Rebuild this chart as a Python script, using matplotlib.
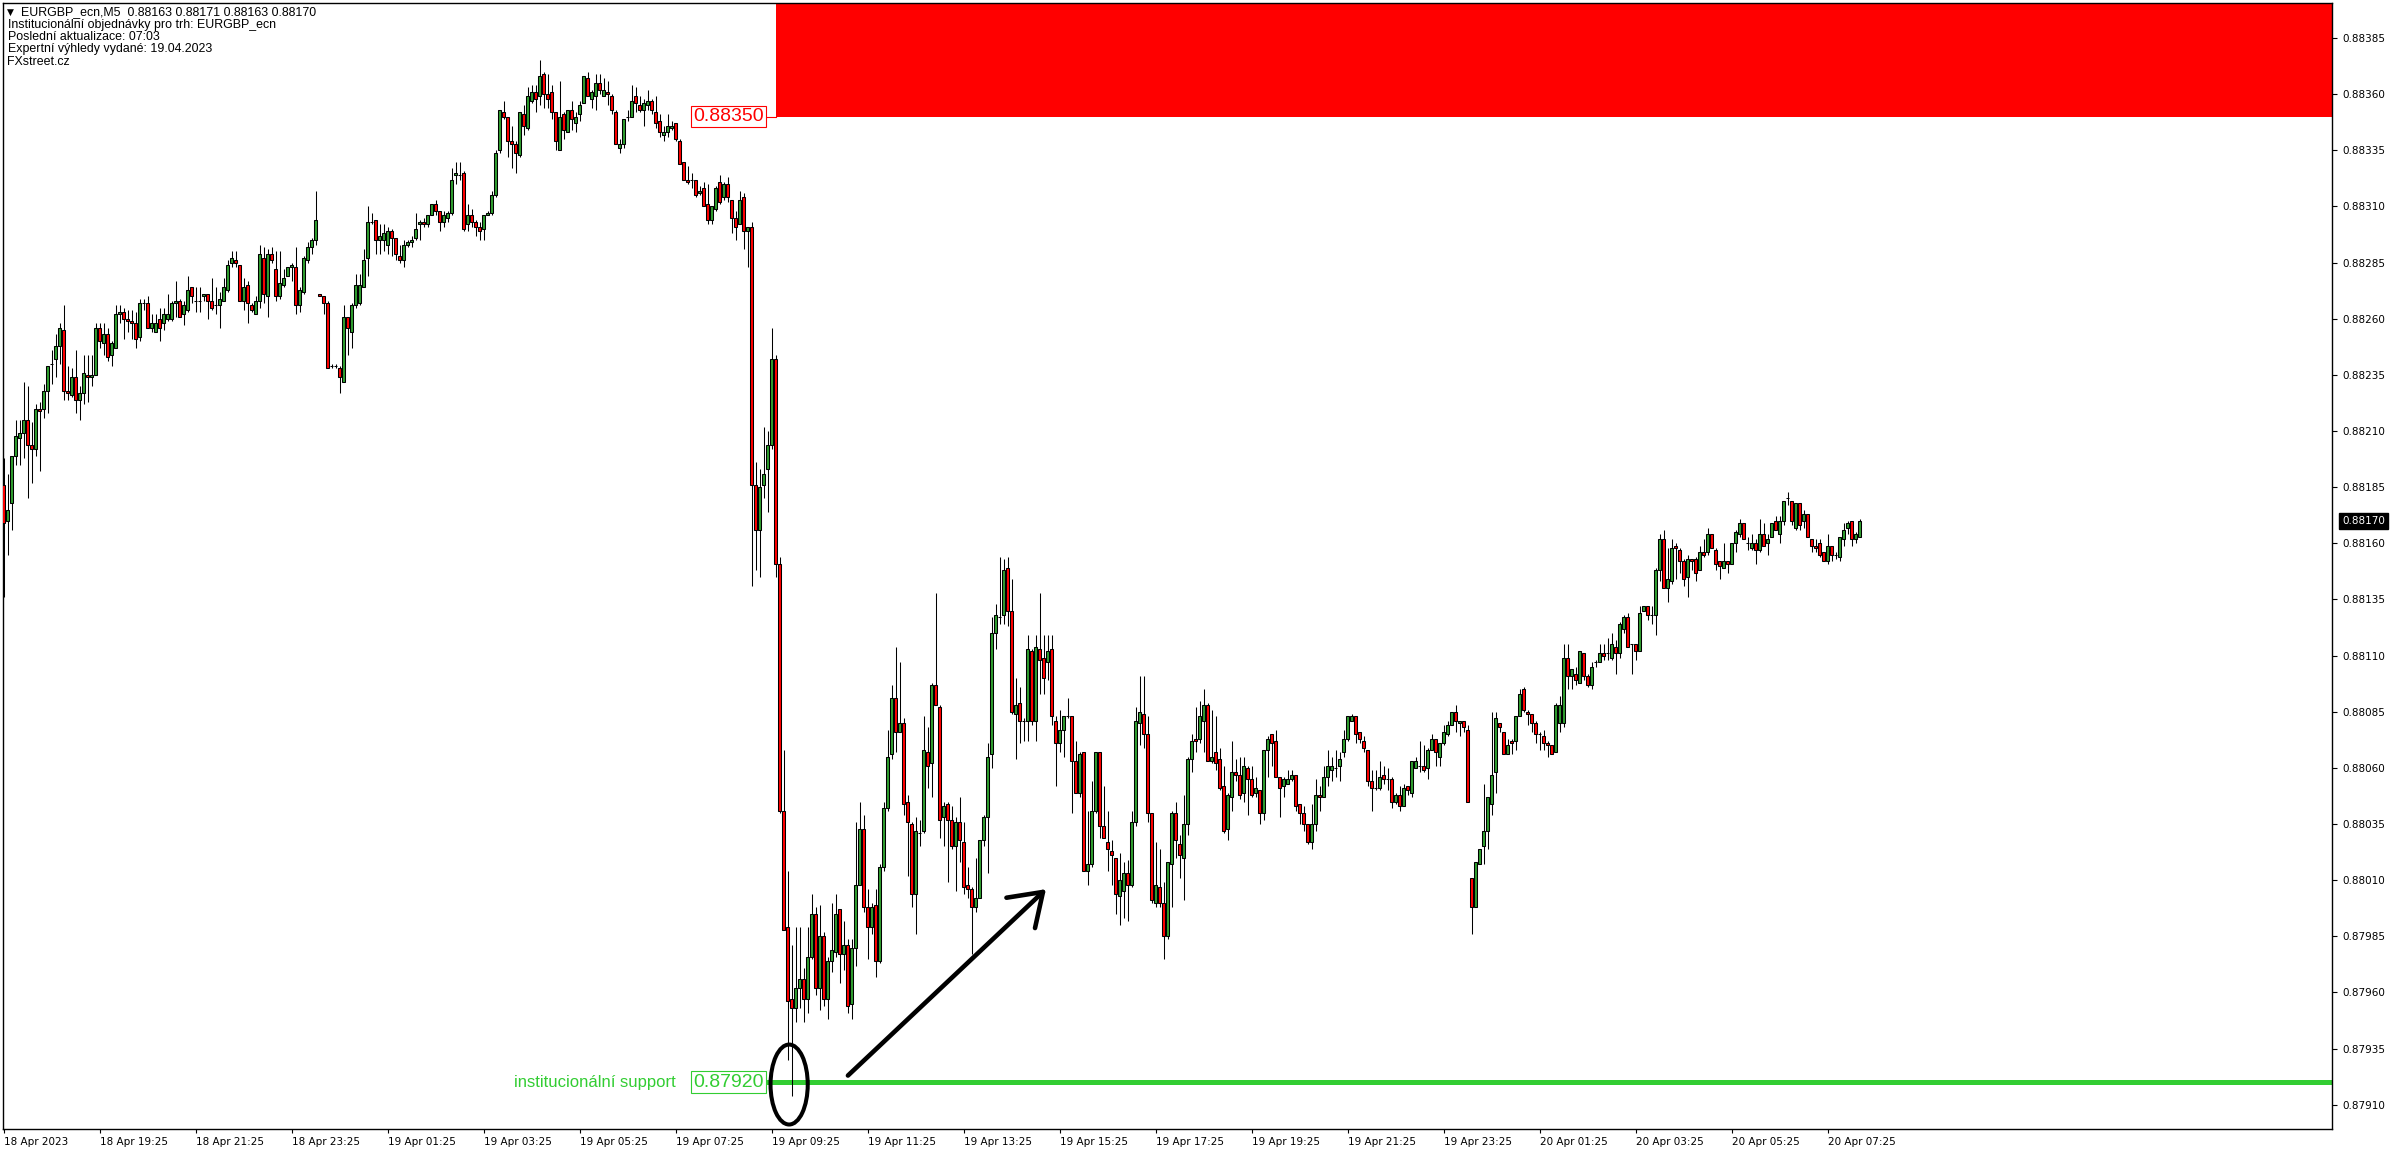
import numpy as np
import matplotlib
matplotlib.use("Agg")
import matplotlib.pyplot as plt
from matplotlib.patches import Rectangle, Ellipse

# M5 candles, values in points (0.00001) above 0.88000
BASE = 0.88
opens = [
    186, 170, 178, 199, 207, 209, 215, 204, 202, 220,
    220, 228, 240, 242, 248, 255, 228, 226, 234, 224,
    227, 235, 234, 235, 256, 249, 253, 244, 247, 262,
    263, 260, 259, 258, 252, 267, 267, 256, 254, 260,
    258, 260, 260, 267, 268, 262, 264, 274, 268, 268,
    270, 271, 268, 266, 266, 268, 273, 285, 286, 284,
    268, 275, 266, 262, 268, 287, 270, 289, 282, 270,
    275, 279, 283, 283, 266, 272, 286, 292, 295, 271,
    270, 267, 239, 239, 238, 232, 261, 254, 266, 267,
    274, 287, 303, 304, 295, 295, 293, 299, 296, 288,
    286, 293, 294, 296, 302, 303, 302, 306, 311, 308,
    303, 305, 307, 324, 324, 325, 302, 306, 303, 301,
    300, 306, 307, 315, 335, 352, 350, 339, 338, 333,
    351, 345, 357, 361, 359, 369, 360, 361, 352, 335,
    351, 343, 353, 347, 351, 356, 367, 358, 359, 365,
    359, 361, 359, 352, 336, 338, 350, 350, 359, 355,
    353, 355, 357, 352, 348, 342, 343, 345, 347, 339,
    330, 322, 322, 322, 316, 318, 311, 304, 309, 321,
    314, 320, 313, 305, 302, 314, 299, 301, 186, 166,
    186, 193, 204, 242, 151, 41, -11, -43, -47, -38,
    -34, -43, -24, -5, -38, -15, -43, -26, -22, -3,
    -23, -19, -45, -20, 8, 33, -2, -11, -1, -26,
    16, 42, 66, 91, 76, 80, 45, 35, 4, 31,
    32, 67, 62, 97, 87, 38, 44, 37, 25, 36,
    27, 8, 6, -2, 2, 28, 38, 66, 120, 127,
    128, 149, 130, 84, 89, 81, 81, 112, 81, 113,
    109, 107, 113, 81, 71, 77, 83, 83, 63, 49,
    67, 14, 17, 41, 67, 34, 27, 23, 20, 3,
    5, 13, 8, 36, 80, 84, 75, 40, 0, 7,
    0, -15, 17, 40, 26, 20, 35, 64, 73, 73,
    81, 88, 63, 67, 64, 52, 33, 47, 58, 57,
    49, 60, 55, 49, 50, 40, 68, 75, 72, 56,
    52, 53, 55, 57, 44, 40, 35, 27, 35, 48,
    47, 56, 59, 60, 61, 67, 73, 81, 83, 76,
    72, 68, 54, 51, 51, 57, 55, 55, 45, 48,
    43, 52, 49, 60, 61, 61, 60, 68, 73, 65,
    71, 75, 79, 85, 80, 81, 77, 11, -2, 17,
    25, 32, 44, 58, 80, 76, 66, 72, 72, 83,
    95, 85, 84, 80, 75, 74, 71, 70, 67, 80,
    80, 109, 101, 102, 98, 111, 101, 97, 107, 107,
    111, 111, 109, 114, 111, 122, 127, 115, 115, 112,
    130, 132, 128, 128, 148, 162, 140, 143, 159, 157,
    152, 145, 153, 153, 148, 156, 156, 164, 157, 152,
    149, 152, 151, 160, 164, 169, 160, 158, 160, 157,
    164, 160, 163, 170, 164, 170, 180, 179, 167, 178,
    170, 173, 162, 159, 160, 156, 152, 159, 155, 154,
    162, 167, 170, 162, 163,
]
highs = [
    198, 191, 199, 215, 215, 232, 230, 214, 222, 223,
    231, 239, 246, 253, 258, 266, 239, 238, 246, 230,
    244, 244, 244, 258, 258, 258, 256, 250, 266, 266,
    265, 264, 264, 263, 269, 269, 270, 262, 262, 265,
    265, 271, 268, 277, 269, 268, 279, 274, 274, 274,
    271, 271, 278, 274, 272, 278, 286, 290, 290, 284,
    278, 277, 267, 270, 293, 292, 291, 292, 290, 290,
    282, 283, 285, 292, 274, 288, 294, 296, 317, 271,
    270, 268, 240, 240, 239, 266, 261, 267, 280, 280,
    291, 310, 307, 304, 302, 302, 301, 300, 296, 293,
    295, 295, 297, 307, 304, 305, 306, 311, 313, 308,
    308, 308, 327, 330, 330, 326, 311, 309, 304, 303,
    306, 308, 317, 335, 353, 357, 350, 346, 339, 352,
    355, 363, 364, 364, 375, 370, 369, 364, 352, 366,
    352, 353, 357, 352, 357, 368, 370, 362, 369, 369,
    367, 366, 360, 353, 340, 349, 353, 364, 363, 359,
    358, 362, 358, 359, 351, 346, 351, 348, 347, 340,
    330, 328, 325, 322, 319, 321, 320, 310, 319, 324,
    321, 323, 313, 308, 317, 316, 301, 303, 196, 193,
    212, 210, 256, 244, 154, 68, 14, -19, -11, -11,
    -29, -11, 4, -2, -1, -13, -24, 0, 4, -3,
    -8, -16, -16, 36, 45, 39, 6, 0, 6, 17,
    45, 77, 97, 114, 107, 82, 48, 36, 38, 37,
    83, 78, 98, 138, 88, 45, 45, 43, 38, 47,
    36, 16, 7, 20, 28, 39, 71, 127, 133, 154,
    153, 154, 144, 100, 96, 82, 119, 113, 119, 138,
    119, 119, 119, 83, 86, 83, 91, 83, 72, 67,
    67, 41, 54, 67, 67, 52, 41, 28, 20, 22,
    18, 19, 41, 87, 101, 101, 83, 40, 27, 24,
    9, 18, 41, 45, 30, 48, 65, 75, 87, 90,
    95, 89, 86, 83, 69, 61, 49, 72, 64, 65,
    65, 61, 61, 56, 50, 68, 74, 75, 77, 56,
    56, 59, 59, 57, 44, 43, 35, 44, 55, 52,
    61, 68, 65, 68, 67, 77, 83, 84, 83, 76,
    74, 68, 59, 59, 63, 61, 60, 56, 49, 52,
    53, 52, 63, 65, 72, 70, 69, 75, 73, 71,
    79, 81, 85, 88, 81, 81, 79, 11, 18, 24,
    53, 47, 85, 85, 80, 76, 73, 73, 83, 95,
    96, 86, 84, 81, 76, 77, 72, 70, 89, 92,
    115, 115, 104, 105, 112, 111, 102, 107, 108, 115,
    115, 118, 120, 117, 125, 128, 129, 115, 115, 132,
    132, 132, 132, 149, 164, 166, 158, 162, 160, 158,
    153, 155, 153, 154, 159, 162, 167, 164, 158, 152,
    160, 152, 160, 166, 171, 169, 163, 164, 162, 171,
    169, 164, 169, 172, 172, 179, 183, 179, 178, 178,
    175, 173, 162, 162, 162, 156, 164, 159, 156, 163,
    169, 170, 170, 165, 171,
]
lows = [
    136, 155, 166, 195, 195, 198, 180, 187, 199, 192,
    216, 218, 231, 234, 240, 224, 224, 225, 218, 215,
    222, 223, 230, 235, 247, 244, 241, 239, 247, 258,
    251, 254, 251, 247, 250, 264, 256, 254, 254, 250,
    255, 259, 259, 261, 261, 257, 263, 267, 263, 263,
    268, 260, 264, 262, 256, 268, 272, 283, 283, 268,
    264, 258, 263, 262, 265, 267, 261, 285, 268, 269,
    274, 279, 277, 262, 263, 271, 285, 289, 293, 270,
    262, 238, 238, 238, 227, 232, 244, 247, 265, 266,
    274, 279, 302, 289, 289, 290, 289, 288, 286, 285,
    283, 292, 292, 295, 295, 301, 301, 306, 306, 299,
    301, 303, 306, 320, 322, 299, 299, 301, 297, 295,
    295, 306, 306, 314, 334, 349, 332, 327, 325, 332,
    342, 344, 356, 352, 355, 354, 354, 349, 335, 335,
    340, 343, 344, 343, 348, 356, 359, 354, 353, 360,
    359, 355, 351, 338, 334, 336, 348, 350, 352, 352,
    346, 353, 351, 345, 341, 339, 341, 344, 339, 329,
    322, 320, 318, 314, 315, 310, 302, 302, 308, 311,
    313, 312, 298, 295, 302, 291, 283, 141, 148, 145,
    180, 174, 202, 145, 40, -12, -70, -86, -53, -47,
    -53, -49, -25, -41, -48, -46, -52, -31, -24, -36,
    -30, -49, -52, -28, 8, -4, -25, -14, -33, -27,
    14, 41, 64, 67, 76, 39, 12, -2, -14, 25,
    31, 51, 47, 88, 29, 25, 9, 24, 5, 18,
    4, 2, -23, -4, 2, 25, 13, 60, 113, 124,
    124, 123, 84, 64, 71, 72, 72, 79, 72, 93,
    93, 99, 79, 52, 67, 65, 82, 40, 49, 47,
    14, 8, 16, 40, 29, 29, 14, 8, -5, -10,
    -7, -8, 7, 34, 70, 69, 36, 0, -2, -2,
    -25, -16, -2, 20, 11, 1, 30, 58, 67, 71,
    67, 63, 62, 59, 50, 31, 28, 41, 54, 46,
    45, 39, 47, 47, 35, 37, 56, 61, 56, 38,
    47, 53, 54, 41, 35, 32, 26, 24, 32, 41,
    47, 52, 54, 56, 54, 65, 72, 81, 71, 71,
    67, 52, 41, 50, 50, 53, 50, 42, 44, 41,
    43, 48, 47, 60, 58, 58, 55, 68, 61, 61,
    70, 74, 79, 76, 74, 76, 45, -14, -2, 17,
    17, 24, 39, 49, 76, 66, 66, 66, 68, 83,
    85, 79, 76, 71, 68, 68, 65, 66, 67, 76,
    78, 95, 95, 97, 98, 99, 96, 95, 105, 107,
    108, 108, 108, 102, 109, 120, 114, 102, 108, 112,
    130, 126, 124, 119, 143, 140, 134, 142, 144, 147,
    141, 136, 148, 143, 148, 154, 155, 158, 148, 144,
    149, 147, 151, 156, 163, 162, 157, 157, 151, 156,
    159, 155, 163, 166, 160, 168, 177, 168, 166, 166,
    167, 163, 156, 156, 154, 152, 151, 152, 153, 152,
    159, 164, 159, 160, 163,
]
closes = [
    169, 175, 199, 208, 209, 215, 204, 202, 220, 219,
    228, 239, 240, 248, 256, 228, 227, 234, 224, 227,
    236, 234, 235, 256, 250, 253, 243, 249, 262, 263,
    260, 259, 258, 251, 267, 267, 256, 258, 258, 256,
    262, 262, 267, 268, 261, 266, 273, 270, 268, 268,
    271, 268, 265, 266, 269, 274, 284, 287, 285, 268,
    274, 267, 264, 268, 289, 271, 289, 286, 270, 276,
    278, 283, 284, 266, 273, 287, 292, 295, 304, 270,
    267, 238, 239, 239, 234, 261, 256, 266, 275, 275,
    286, 303, 303, 295, 297, 298, 299, 296, 289, 286,
    293, 294, 295, 300, 303, 302, 306, 311, 308, 303,
    306, 307, 322, 325, 324, 300, 306, 303, 301, 299,
    306, 307, 315, 334, 353, 350, 339, 338, 334, 352,
    346, 359, 361, 358, 368, 360, 358, 352, 339, 350,
    344, 353, 349, 350, 355, 368, 359, 361, 365, 362,
    362, 360, 353, 338, 338, 349, 350, 357, 356, 353,
    356, 357, 353, 347, 343, 343, 346, 346, 340, 329,
    322, 321, 322, 315, 317, 310, 304, 310, 318, 312,
    320, 314, 305, 301, 313, 299, 301, 186, 166, 185,
    191, 204, 242, 151, 41, -12, -44, -47, -38, -34,
    -43, -24, -5, -38, -15, -43, -26, -21, -5, -23,
    -19, -46, -20, 8, 33, -2, -11, -2, -26, 16,
    42, 65, 91, 76, 80, 44, 36, 4, 32, 31,
    68, 61, 97, 88, 37, 43, 37, 25, 36, 28,
    7, 6, -2, 2, 28, 38, 65, 120, 128, 127,
    148, 130, 85, 88, 81, 81, 113, 81, 114, 108,
    100, 112, 83, 71, 77, 83, 83, 63, 49, 66,
    14, 17, 41, 67, 34, 29, 24, 21, 4, 10,
    13, 8, 36, 81, 85, 75, 40, 1, 8, 0,
    -15, 18, 40, 28, 21, 35, 64, 72, 72, 83,
    88, 63, 65, 62, 51, 32, 48, 58, 57, 48,
    61, 55, 48, 51, 40, 68, 73, 71, 56, 51,
    55, 55, 57, 43, 40, 35, 27, 35, 48, 47,
    56, 61, 61, 60, 64, 73, 83, 83, 75, 73,
    69, 54, 51, 51, 56, 55, 55, 45, 48, 43,
    51, 50, 63, 63, 61, 59, 68, 73, 67, 71,
    76, 79, 85, 81, 81, 78, 45, -2, 18, 24,
    32, 47, 57, 82, 78, 66, 70, 71, 83, 93,
    86, 84, 80, 75, 75, 71, 70, 66, 88, 88,
    109, 101, 104, 99, 112, 101, 97, 105, 107, 111,
    110, 111, 115, 111, 124, 127, 114, 115, 112, 129,
    132, 128, 128, 148, 162, 140, 144, 158, 158, 152,
    144, 153, 152, 147, 156, 155, 164, 158, 151, 150,
    152, 151, 160, 165, 169, 162, 160, 160, 157, 164,
    159, 162, 169, 166, 170, 179, 180, 170, 178, 168,
    173, 163, 159, 158, 155, 152, 159, 155, 155, 163,
    166, 169, 162, 164, 170,
]

# time axis: one label every 24 bars
tick_bars = [0, 24, 48, 72, 96, 120, 144, 168, 192, 216,
             240, 264, 288, 312, 336, 360, 384, 408, 432, 456]
tick_labels = ["18 Apr 2023", "18 Apr 19:25", "18 Apr 21:25", "18 Apr 23:25",
               "19 Apr 01:25", "19 Apr 03:25", "19 Apr 05:25", "19 Apr 07:25",
               "19 Apr 09:25", "19 Apr 11:25", "19 Apr 13:25", "19 Apr 15:25",
               "19 Apr 17:25", "19 Apr 19:25", "19 Apr 21:25", "19 Apr 23:25",
               "20 Apr 01:25", "20 Apr 03:25", "20 Apr 05:25", "20 Apr 07:25"]
price_ticks = [0.87910, 0.87935, 0.87960, 0.87985, 0.88010, 0.88035, 0.88060,
               0.88085, 0.88110, 0.88135, 0.88160, 0.88185, 0.88210, 0.88235,
               0.88260, 0.88285, 0.88310, 0.88335, 0.88360, 0.88385]

zone_low = 0.88350      # institutional resistance zone
zone_start = 193
support = 0.87920
last_price = 0.88170

header = ["Institucionální objednávky pro trh: EURGBP_ecn",
          "Poslední aktualizace: 07:03",
          "Expertní výhledy vydané: 19.04.2023",
          "FXstreet.cz"]

W, H = 2396, 1154
fig = plt.figure(figsize=(W / 100, H / 100), dpi=100)
ax = fig.add_axes([3 / W, (H - 1129) / H, (2332 - 3) / W, (1129 - 3) / H])
ax.set_facecolor("white")

o = BASE + np.array(opens) * 1e-5
h = BASE + np.array(highs) * 1e-5
l = BASE + np.array(lows) * 1e-5
c = BASE + np.array(closes) * 1e-5
x = np.arange(len(c))

xmax = 582.1
ax.set_xlim(-0.125, xmax)
ax.set_ylim(0.878992, 0.884006)

# zone + support line
ax.add_patch(Rectangle((zone_start, zone_low), xmax - zone_start, 0.001,
                       facecolor="#ff0000", edgecolor="none", zorder=1))
ax.plot([190.3, xmax], [support, support], color="#32cd32", lw=3.6,
        solid_capstyle="butt", zorder=1)

# candles
ax.vlines(x, np.minimum(l, np.minimum(o, c)), np.maximum(h, np.maximum(o, c)),
          color="black", lw=0.75, zorder=2)
col = np.where(c >= o, "#2f9e2f", "#ff0000")
ax.bar(x, c - o, bottom=o, width=0.65, color=col, edgecolor="black",
       linewidth=0.75, zorder=3)

# labels at the levels
ax.text(190.0, zone_low, "0.88350", color="red", fontsize=14,
        family="Liberation Sans", ha="right", va="center", zorder=5,
        bbox=dict(boxstyle="square,pad=0.12", facecolor="white", edgecolor="red", lw=0.8))
ax.plot([190.2, zone_start], [zone_low, zone_low], color="red", lw=0.8, zorder=4)
ax.text(190.0, support, "0.87920", color="#32cd32", fontsize=14,
        family="Liberation Sans", ha="right", va="center", zorder=5,
        bbox=dict(boxstyle="square,pad=0.12", facecolor="white", edgecolor="#32cd32", lw=0.8))
ax.text(168, support, "institucionální support", color="#32cd32", fontsize=12,
        family="Liberation Sans", ha="right", va="center")

# hand drawn marks
ax.add_patch(Ellipse((196.4, 0.87919), 9.3, 0.000356, fill=False,
                     edgecolor="black", lw=2.9, zorder=6))
ax.annotate("", xy=(260.6, 0.88006), xytext=(211.1, 0.87923),
            arrowprops=dict(arrowstyle="->,head_length=22,head_width=15",
                            mutation_scale=1, lw=3.3, color="black",
                            shrinkA=0, shrinkB=0, capstyle="round"), zorder=6)

# axes
for s in ax.spines.values():
    s.set_color("black")
    s.set_linewidth(1.0)
ax.yaxis.tick_right()
ax.set_yticks(price_ticks)
ax.set_yticklabels(["%.5f" % p for p in price_ticks])
ax.tick_params(axis="y", length=3.6, width=0.8, pad=4, labelsize=7.5)
ax.set_xticks(tick_bars)
ax.set_xticklabels(tick_labels, ha="left")
ax.tick_params(axis="x", length=3.2, width=0.8, pad=2.5, labelsize=7.5)
for t in ax.get_xticklabels() + ax.get_yticklabels():
    t.set_family("DejaVu Sans")

ax.text(1.0045, last_price, "%.5f" % last_price, transform=ax.get_yaxis_transform(),
        color="white", fontsize=7.5, family="DejaVu Sans", ha="left", va="center",
        clip_on=False, bbox=dict(boxstyle="square,pad=0.3", facecolor="black", edgecolor="black"))

# header block
fig.text(7 / W, 1 - 12.5 / H, "▼", fontsize=6.5, family="DejaVu Sans", va="center")
fig.text(21 / W, 1 - 12.5 / H, "EURGBP_ecn,M5  0.88163 0.88171 0.88163 0.88170",
         fontsize=8.9, family="Liberation Sans", va="center")
for k, line in enumerate(header):
    fig.text(7.5 / W, 1 - (25 + 12.2 * k) / H, line, fontsize=8.9,
             family="Liberation Sans", va="center")

fig.savefig("out.png", dpi=100, facecolor="white")
